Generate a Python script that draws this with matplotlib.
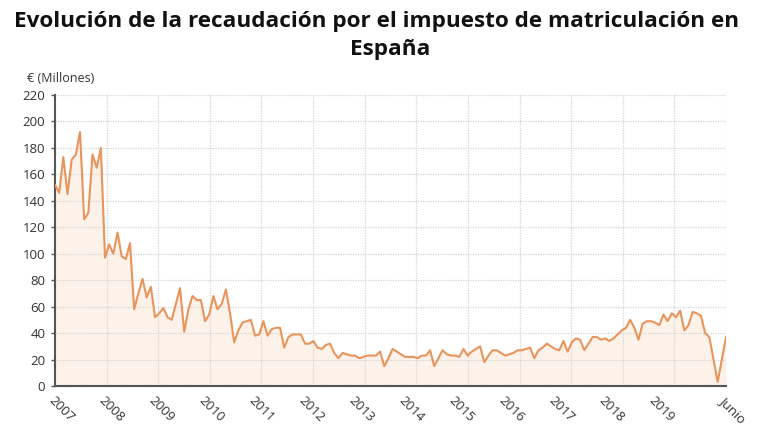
import numpy as np
import matplotlib
matplotlib.use("Agg")
import matplotlib.pyplot as plt

plt.rcParams['font.family'] = ['Open Sans', 'DejaVu Sans']

# Monthly revenue (million EUR), Jan 2007 .. Jun 2020
v2007 = [152, 146, 173, 145, 171, 175, 192, 126, 131, 175, 165, 180]
v2008 = [97, 107, 100, 116, 98, 96, 108, 58, 70, 81, 67, 75]
v2009 = [52, 55, 59, 52, 50, 62, 74, 41, 58, 68, 65, 65]
v2010 = [49, 54, 68, 58, 62, 73, 55, 33, 42, 48, 49, 50]
v2011 = [38, 39, 49, 38, 43, 44, 44, 29, 37, 39, 39, 39]
v2012 = [32, 32, 34, 29, 28, 31, 32, 25, 21, 25, 24, 23]
v2013 = [23, 21, 22, 23, 23, 23, 26, 15, 21, 28, 26, 24]
v2014 = [22, 22, 22, 21, 23, 23, 27, 15, 21, 27, 24, 23]
v2015 = [23, 22, 28, 23, 26, 28, 30, 18, 23, 27, 27, 25]
v2016 = [23, 24, 25, 27, 27, 28, 29, 21, 27, 29, 32, 30]
v2017 = [28, 27, 34, 26, 33, 36, 35, 27, 32, 37, 37, 35]
v2018 = [36, 34, 36, 39, 42, 44, 50, 44, 35, 47, 49, 49]
v2019 = [48, 46, 54, 49, 55, 52, 57, 42, 46, 56, 55, 53]
v2020 = [40, 37, 20, 3, 20, 37]

values = np.array(v2007 + v2008 + v2009 + v2010 + v2011 + v2012 + v2013 +
                  v2014 + v2015 + v2016 + v2017 + v2018 + v2019 + v2020, dtype=float)
months = np.arange(len(values))

tick_labels = ['2007', '2008', '2009', '2010', '2011', '2012', '2013',
               '2014', '2015', '2016', '2017', '2018', '2019', 'Junio']
tick_pos = [12 * i for i in range(13)] + [len(values) - 1]

line_color = '#E8945A'
fill_color = '#FDF2EA'
text_color = '#333333'

fig = plt.figure(figsize=(7.8, 4.4), dpi=100)
ax = fig.add_axes([55 / 780, 1 - 386 / 440, (726 - 55) / 780, (386 - 95) / 440])

ax.fill_between(months, values, 0, color=fill_color, zorder=1, linewidth=0)
ax.plot(months, values, color=line_color, lw=1.5, zorder=3)

ax.set_xlim(0, len(values) - 1)
ax.set_ylim(0, 220)
ax.set_yticks(np.arange(0, 221, 20))

# grid
for gx in np.linspace(0, len(values) - 1, 14)[1:]:
    ax.axvline(gx, color='#d4d4d4', lw=0.9, ls=(0, (1, 1)), zorder=2)
for gy in np.arange(20, 221, 20):
    ax.axhline(gy, color='#d4d4d4', lw=0.9, ls=(0, (1, 1)), zorder=2)

ax.set_xticks(tick_pos)
ax.set_xticklabels(tick_labels, rotation=-45, ha='left', va='top',
                   rotation_mode='anchor', fontsize=9.5, color=text_color)
ax.tick_params(axis='x', length=0, pad=6)
ax.tick_params(axis='y', length=3, width=1, color='#555555', labelsize=9.5,
               labelcolor=text_color, pad=4)

for s in ['top', 'right']:
    ax.spines[s].set_visible(False)
ax.spines['left'].set_color('#555555')
ax.spines['left'].set_linewidth(1.5)
ax.spines['bottom'].set_color('#555555')
ax.spines['bottom'].set_linewidth(1.5)
ax.spines['bottom'].set_linestyle((0, (1, 0.6)))

fig.text(27 / 780, 1 - 78 / 440, '€ (Millones)', fontsize=9, color=text_color,
         ha='left', va='center')

fig.text(377 / 780, 1 - 22 / 440, 'Evolución de la recaudación por el impuesto de matriculación en',
         fontsize=16.2, fontweight='bold', ha='center', va='center', color='#111111')
fig.text(390 / 780, 1 - 50 / 440, 'España', fontsize=16.2, fontweight='bold',
         ha='center', va='center', color='#111111')

fig.savefig('out.png', dpi=100, facecolor='white')
